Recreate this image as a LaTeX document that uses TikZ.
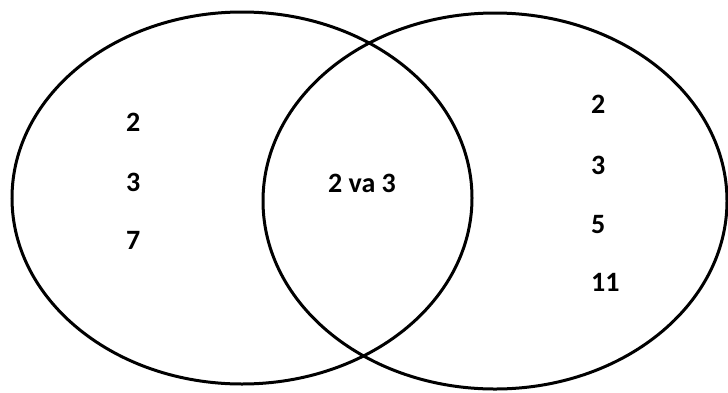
\documentclass[tikz,border=0pt]{standalone}
\usepackage{fontspec}
\setmainfont{Carlito}
\usetikzlibrary{shapes.geometric}
\begin{document}
\begin{tikzpicture}[x=1pt,y=-1pt,
  set/.style={draw=black, line width=3pt, ellipse, inner sep=0pt},
  num/.style={font=\bfseries\fontsize{28}{32}\selectfont, inner sep=0pt, anchor=west}]
\useasboundingbox (0,0) rectangle (728,392);
\node[set, minimum width=460, minimum height=372] (L) at (242,198) {};
\node[set, minimum width=464, minimum height=376] (R) at (495,201) {};
\node[num] (l2) at (126,122) {2};
\node[num] (l3) at (126,182) {3};
\node[num] (l7) at (126,240) {7};
\node[num, anchor=center] (m) at (362,183) {2 va 3};
\node[num] (r2) at (591,104) {2};
\node[num] (r3) at (591,165) {3};
\node[num] (r5) at (591,225) {5};
\node[num] (r11) at (591,282) {11};
\end{tikzpicture}
\end{document}
